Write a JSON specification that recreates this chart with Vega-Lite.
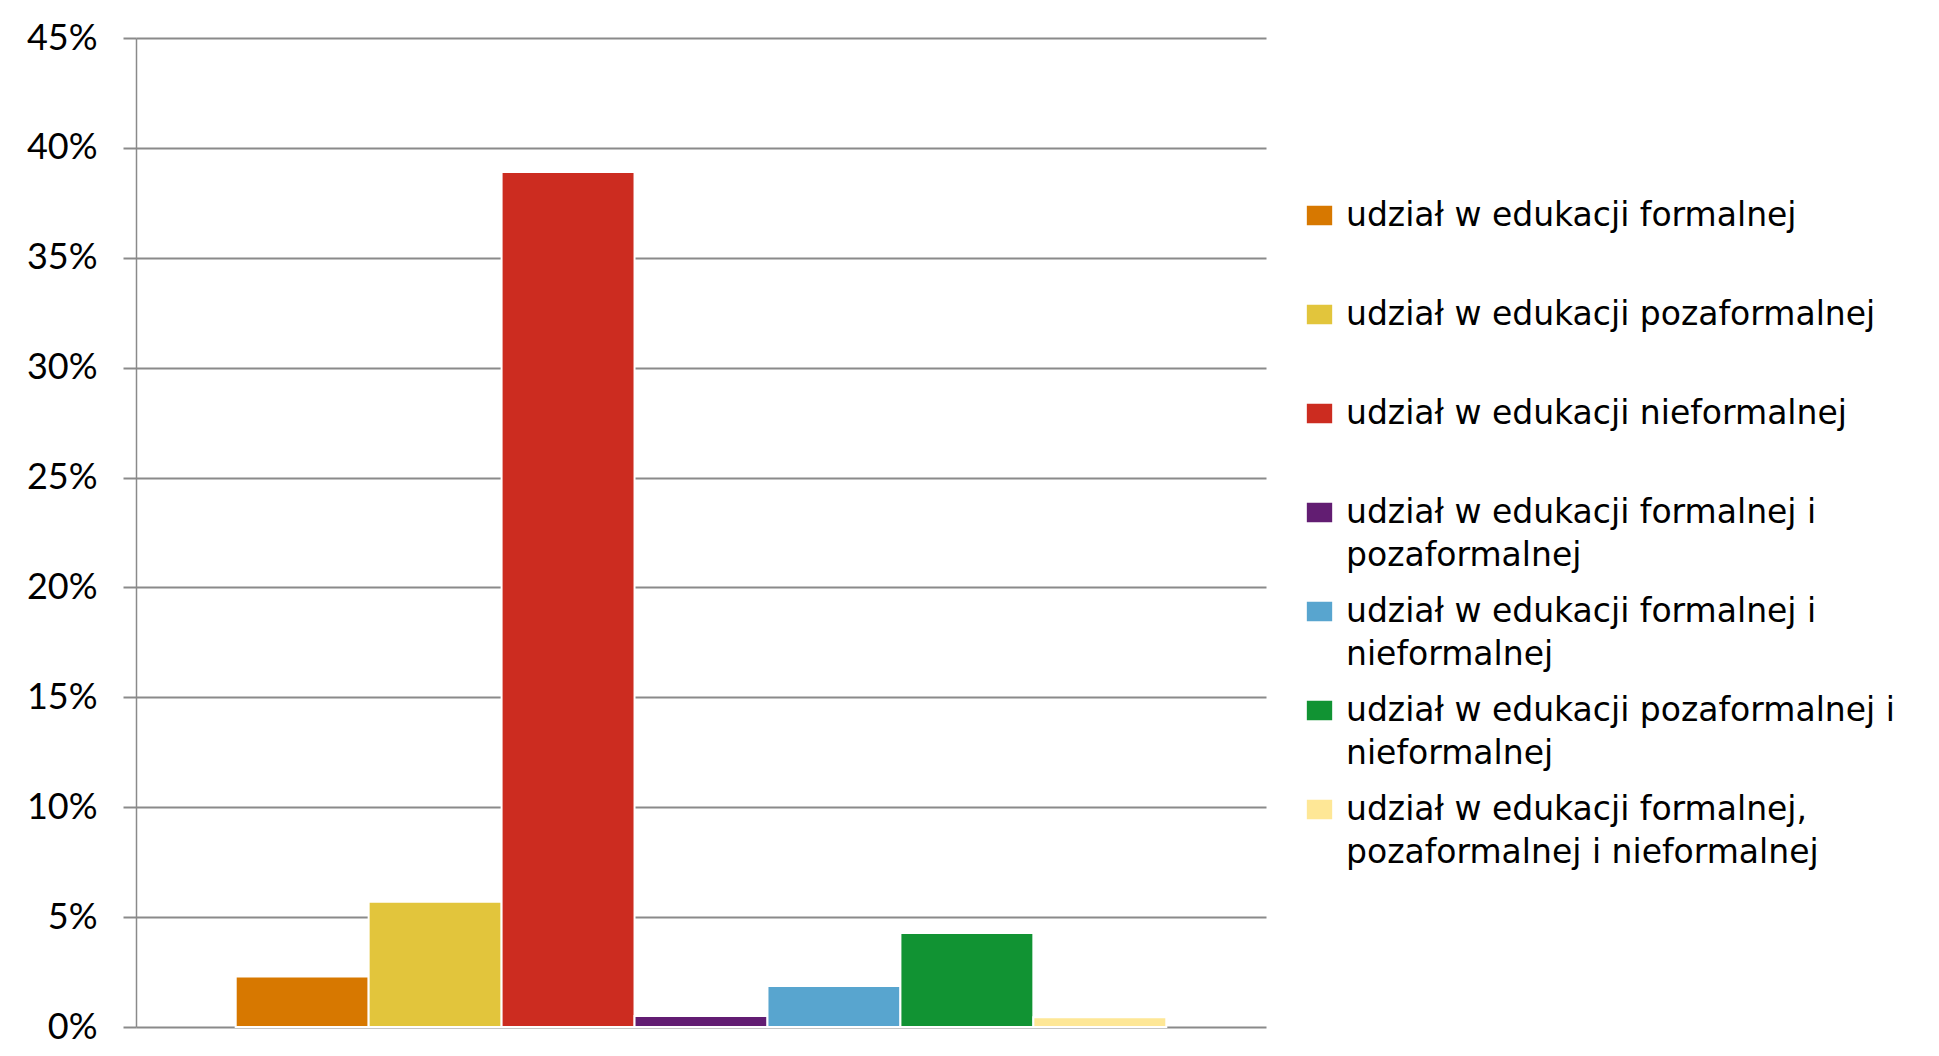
{
  "$schema": "https://vega.github.io/schema/vega-lite/v6.json",
  "width": 1130,
  "height": 989,
  "autosize": "none",
  "padding": {"left": 136, "top": 38, "right": 673, "bottom": 29},
  "background": "white",
  "data": {
    "values": [
      {"kategoria": "udział w edukacji formalnej", "udzial": 2.3},
      {"kategoria": "udział w edukacji pozaformalnej", "udzial": 5.7},
      {"kategoria": "udział w edukacji nieformalnej", "udzial": 38.9},
      {"kategoria": "udział w edukacji formalnej i pozaformalnej", "udzial": 0.5},
      {"kategoria": "udział w edukacji formalnej i nieformalnej", "udzial": 1.87},
      {"kategoria": "udział w edukacji pozaformalnej i nieformalnej", "udzial": 4.28},
      {"kategoria": "udział w edukacji formalnej, pozaformalnej i nieformalnej", "udzial": 0.44}
    ]
  },
  "mark": {"type": "bar", "stroke": "white", "strokeWidth": 2},
  "encoding": {
    "x": {
      "field": "kategoria",
      "type": "nominal",
      "sort": null,
      "scale": {"paddingInner": 0, "paddingOuter": 0.75},
      "axis": null
    },
    "y": {
      "field": "udzial",
      "type": "quantitative",
      "scale": {"domain": [0, 45], "nice": false},
      "axis": {
        "title": null,
        "values": [0, 5, 10, 15, 20, 25, 30, 35, 40, 45],
        "labelExpr": "datum.value + '%'",
        "labelFont": "Lato",
        "labelFontSize": 36,
        "labelColor": "#000000",
        "labelPadding": 26,
        "grid": true,
        "gridColor": "#8a8a8a",
        "gridWidth": 2,
        "tickSize": 13,
        "tickColor": "#8a8a8a",
        "tickWidth": 2,
        "domainColor": "#8a8a8a",
        "domainWidth": 1.5
      }
    },
    "color": {
      "field": "kategoria",
      "type": "nominal",
      "sort": null,
      "scale": {
        "domain": [
          "udział w edukacji formalnej",
          "udział w edukacji pozaformalnej",
          "udział w edukacji nieformalnej",
          "udział w edukacji formalnej i pozaformalnej",
          "udział w edukacji formalnej i nieformalnej",
          "udział w edukacji pozaformalnej i nieformalnej",
          "udział w edukacji formalnej, pozaformalnej i nieformalnej"
        ],
        "range": ["#D77800", "#E2C53C", "#CC2C20", "#621D72", "#58A5CF", "#119333", "#FEE796"]
      },
      "legend": {
        "title": null,
        "orient": "none",
        "legendX": 1167,
        "legendY": 161,
        "labelFont": "DejaVu Sans",
        "labelFontSize": 33,
        "labelColor": "#000000",
        "labelLimit": 900,
        "labelOffset": 10,
        "symbolType": "M-1.3,-1H1.3V1H-1.3Z",
        "symbolSize": 380,
        "symbolStrokeWidth": 0,
        "symbolOpacity": 1,
        "rowPadding": 22,
        "labelExpr": "indexof(datum.label, ',') > 0 ? [substring(datum.label, 0, indexof(datum.label, ',') + 1), substring(datum.label, indexof(datum.label, ',') + 2)] : length(datum.label) > 32 ? [substring(datum.label, 0, lastindexof(datum.label, ' ')), substring(datum.label, lastindexof(datum.label, ' ') + 1)] : [datum.label, ' ']"
      }
    }
  },
  "config": {
    "view": {"stroke": null},
    "style": {"guide-label": {"lineHeight": 43}}
  }
}
